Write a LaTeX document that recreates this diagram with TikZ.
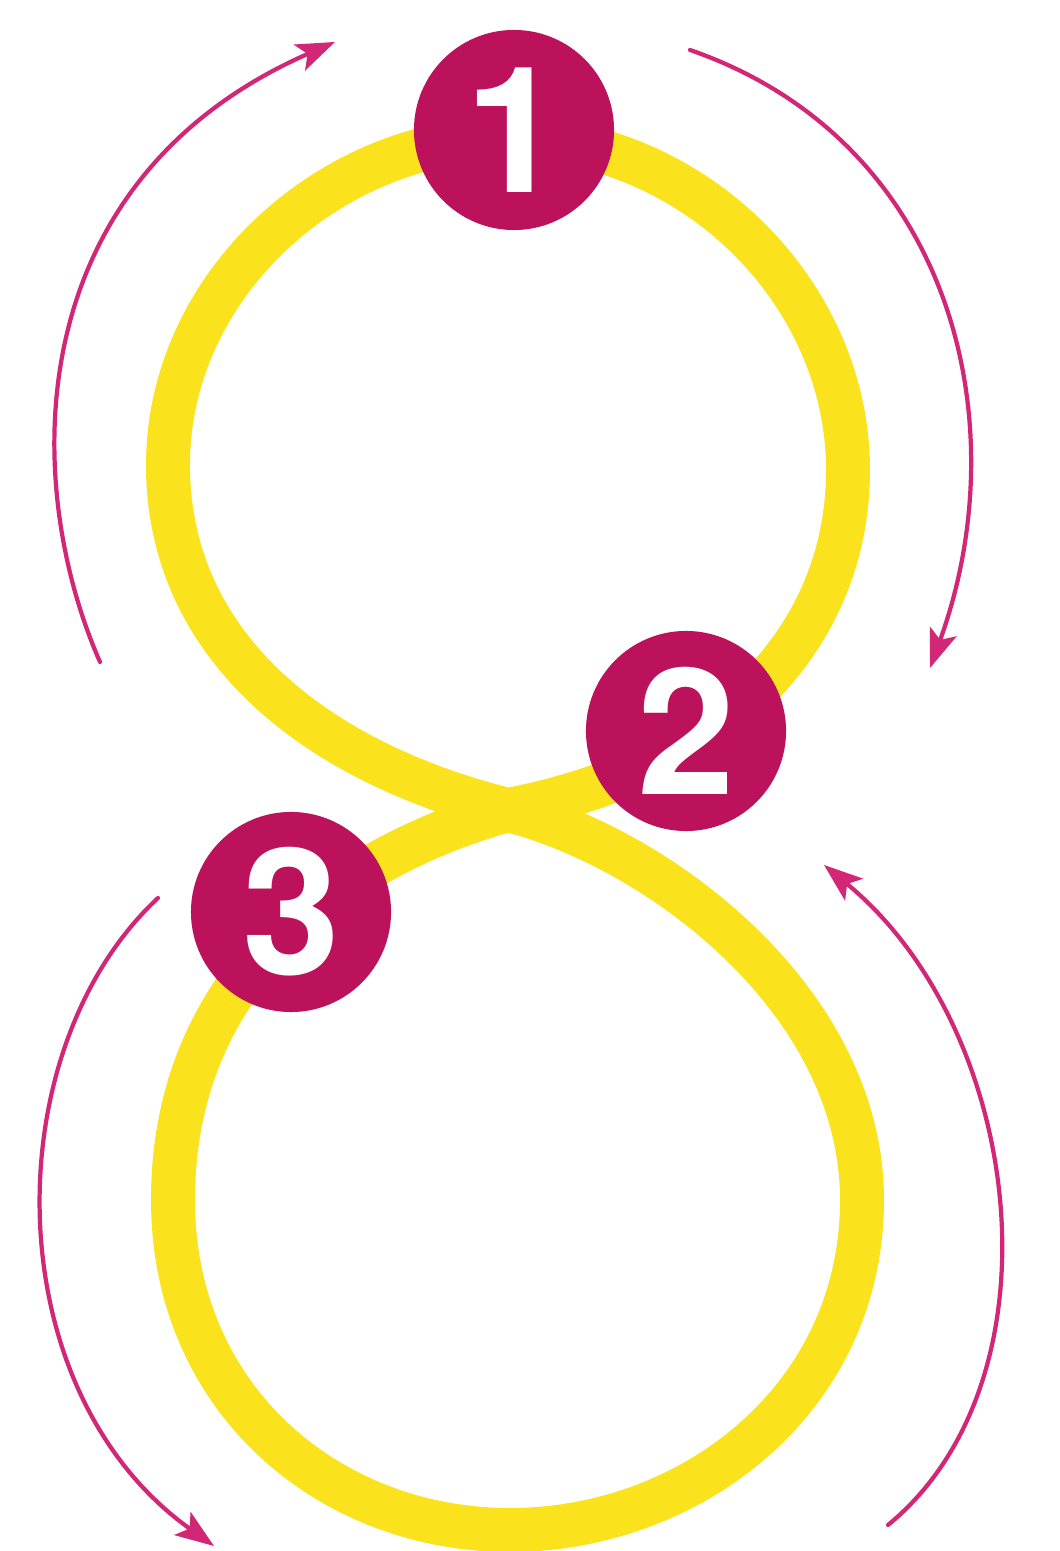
\documentclass[tikz,border=0pt]{standalone}
\usepackage{fontspec}
\newfontfamily\digitfont{TeX Gyre Heros}
\usetikzlibrary{arrows.meta}
\definecolor{loopyellow}{RGB}{250,226,28}
\definecolor{badgered}{RGB}{188,18,92}
\definecolor{arrowpink}{RGB}{210,38,118}

\begin{document}
\begin{tikzpicture}[
		x=0.01cm,
		y=0.01cm,
		line cap=round,
		line join=round,
		>={Stealth[length=11pt,width=8pt,inset=2.5pt]},
		loopline/.style={draw=loopyellow, line width=12.5pt},
		turnarrow/.style={->, draw=arrowpink, line width=1.2pt},
		badge/.style={circle, fill=badgered, minimum size=2cm, inner sep=0pt,
			text=white, font=\digitfont\bfseries\fontsize{50}{50}\selectfont}
		]
		
		\useasboundingbox (0,0) rectangle (1059,1551);
		
		%------------------------------------------------------------------
		% Coordinates
		%------------------------------------------------------------------
		\coordinate (X)    at ( 508,  741);   % crossing
		\coordinate (UpL)  at ( 168, 1086);
		\coordinate (UpT)  at ( 510, 1413);
		\coordinate (UpR)  at ( 848, 1081);
		\coordinate (LoL)  at ( 173,  351);
		\coordinate (LoB)  at ( 510,   21);
		\coordinate (LoR)  at ( 862,  351);
		
		% Arrow end points
		\coordinate (aTLs) at ( 100,  889);
		\coordinate (aTLe) at ( 335, 1509);
		\coordinate (aTRs) at ( 690, 1501);
		\coordinate (aTRe) at ( 930,  883);
		\coordinate (aBLs) at ( 158,  653);
		\coordinate (aBLe) at ( 214,    5);
		\coordinate (aBRs) at ( 888,   26);
		\coordinate (aBRe) at ( 824,  686);
		
		%------------------------------------------------------------------
		% Figure-eight loop
		%------------------------------------------------------------------
		\draw[loopline]
		(X)   .. controls (326,786)  and (168,898)  .. (UpL)
		      .. controls (168,1266) and (330,1413) .. (UpT)
		      .. controls (690,1413) and (848,1261) .. (UpR)
		      .. controls (848,911)  and (720,781)  .. (X)
		      .. controls (380,706)  and (173,601)  .. (LoL)
		      .. controls (173,151)  and (330,21)   .. (LoB)
		      .. controls (690,21)   and (862,151)  .. (LoR)
		      .. controls (862,551)  and (658,703)  .. (X);
		
		%------------------------------------------------------------------
		% Numbered badges
		%------------------------------------------------------------------
		\node[badge] (n1) at (514, 1421) {1};
		\node[badge] (n2) at (686,  820) {2};
		\node[badge] (n3) at (291,  639) {3};
		
		%------------------------------------------------------------------
		% Direction arrows
		%------------------------------------------------------------------
		\draw[turnarrow] (aTLs) .. controls (20,1071)   and (20,1371)   .. (aTLe);
		\draw[turnarrow] (aTRs) .. controls (950,1411)  and (1020,1131) .. (aTRe);
		\draw[turnarrow] (aBLs) .. controls (-5,501)    and (-5,161)    .. (aBLe);
		\draw[turnarrow] (aBRs) .. controls (1065,171)  and (1025,521)  .. (aBRe);
		
	\end{tikzpicture}
\end{document}
